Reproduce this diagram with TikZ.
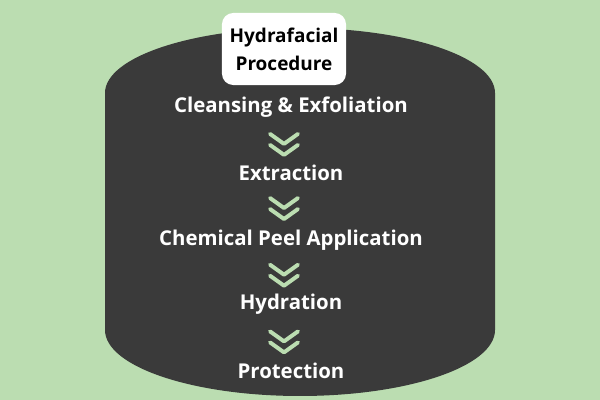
\documentclass[tikz,border=0pt]{standalone}
\usepackage{fontspec}
\setmainfont{Open Sans}
\definecolor{leaf}{HTML}{BBDDB1}
\definecolor{slate}{HTML}{3A3A3A}
\tikzset{
  stage/.style={text=white, font=\bfseries\fontsize{14.5}{17}\selectfont},
  chev/.style={draw=leaf, line width=2.8pt, line cap=round, line join=round}
}
\begin{document}
\begin{tikzpicture}[x=0.025cm, y=0.025cm]
\fill[leaf] (0,0) rectangle (600,400);
% barrel
\fill[slate] (105,70)--(105,307) arc[start angle=180, end angle=0, x radius=195, y radius=65]
  --(495,70) arc[start angle=0, end angle=-180, x radius=195, y radius=66]--cycle;
\node[fill=white, rounded corners=8pt, minimum width=3.1cm, minimum height=1.8cm,
  align=center, font=\bfseries\fontsize{13.5}{20}\selectfont] (title) at (284,351) {Hydrafacial\\Procedure};
\node[stage] (s1) at (291,293) {Cleansing \& Exfoliation};
\node[stage] (s2) at (291,227) {Extraction};
\node[stage] (s3) at (291,160) {Chemical Peel Application};
\node[stage] (s4) at (291,96) {Hydration};
\node[stage] (s5) at (291,29) {Protection};
\foreach \a/\b in {s1/s2,s2/s3,s3/s4,s4/s5}
{
    \path (\a.south) -- (\b.north) coordinate[pos=.5] (m);
    \coordinate (c) at ([yshift=-0.08cm]m -| title);
    \draw[chev] ([shift={(-14,10.5)}]c) -- ([shift={(0,.5)}]c) -- ([shift={(14,10.5)}]c);
    \draw[chev] ([shift={(-14,-.5)}]c) -- ([shift={(0,-10.5)}]c) -- ([shift={(14,-.5)}]c);
}
\end{tikzpicture}
\end{document}
